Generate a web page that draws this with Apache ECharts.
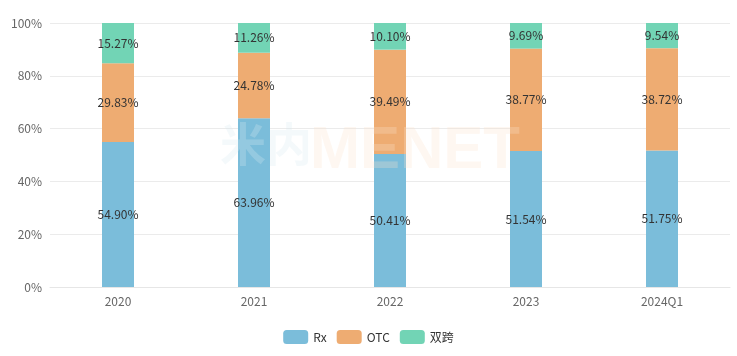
<!DOCTYPE html>
<html>
<head>
<meta charset="utf-8">
<script src="https://cdn.jsdelivr.net/npm/echarts@6/dist/echarts.min.js"></script>
<style>
html,body{margin:0;padding:0;background:#fff;}
#main{width:737px;height:356px;}
</style>
</head>
<body>
<div id="main"></div>
<script>
const categories = ['2020', '2021', '2022', '2023', '2024Q1'];
const rxValues = [54.90, 63.96, 50.41, 51.54, 51.75];
const otcValues = [29.83, 24.78, 39.49, 38.77, 38.72];
const dualValues = [15.27, 11.26, 10.10, 9.69, 9.54];
const seriesNames = ['Rx', 'OTC', '双跨'];
const yTicks = [0, 20, 40, 60, 80, 100];

const FONT = '"Noto Sans CJK SC", "Noto Sans", sans-serif';
const colors = ['#7bbdda', '#eeac72', '#72d4b5'];

const labelCfg = {
  show: true,
  position: 'inside',
  color: '#333',
  fontSize: 12,
  fontFamily: FONT,
  formatter: p => Number(p.value).toFixed(2) + '%'
};

const chart = echarts.init(document.getElementById('main'), null, {renderer: 'canvas'});
chart.setOption({
  animation: false,
  color: colors,
  textStyle: {fontFamily: FONT},
  grid: {left: 50, right: 7, top: 23, bottom: 69, containLabel: false},
  legend: {
    data: seriesNames,
    bottom: 7,
    left: 'center',
    itemWidth: 25,
    itemHeight: 14,
    itemGap: 10,
    textStyle: {color: '#333', fontSize: 12, fontFamily: FONT}
  },
  xAxis: {
    type: 'category',
    data: categories,
    axisTick: {show: false},
    axisLine: {show: true, lineStyle: {color: '#e6e6e6'}},
    axisLabel: {color: '#666', fontSize: 12, fontFamily: FONT, margin: 8}
  },
  yAxis: {
    type: 'value',
    min: yTicks[0],
    max: yTicks[yTicks.length - 1],
    interval: yTicks[1] - yTicks[0],
    axisLine: {show: false},
    axisTick: {show: false},
    splitLine: {lineStyle: {color: '#ebebeb'}},
    axisLabel: {color: '#666', fontSize: 12, fontFamily: FONT, formatter: '{value}%', margin: 8}
  },
  graphic: [
    {
      type: 'text', left: 220, top: 121, z: 100, silent: true,
      style: {text: '米内', font: 'bold 46px "Noto Sans CJK SC"', fill: 'rgba(215,232,240,0.28)'}
    },
    {
      type: 'text', left: 310, top: 121, z: 100, silent: true,
      style: {text: 'MENET', font: 'bold 60px "Liberation Sans"', fill: 'rgba(252,228,205,0.28)'}
    }
  ],
  series: [
    {name: seriesNames[0], type: 'bar', stack: 'total', barWidth: 32, data: rxValues, label: labelCfg},
    {name: seriesNames[1], type: 'bar', stack: 'total', barWidth: 32, data: otcValues, label: labelCfg},
    {name: seriesNames[2], type: 'bar', stack: 'total', barWidth: 32, data: dualValues, label: labelCfg}
  ]
});
</script>
</body>
</html>
